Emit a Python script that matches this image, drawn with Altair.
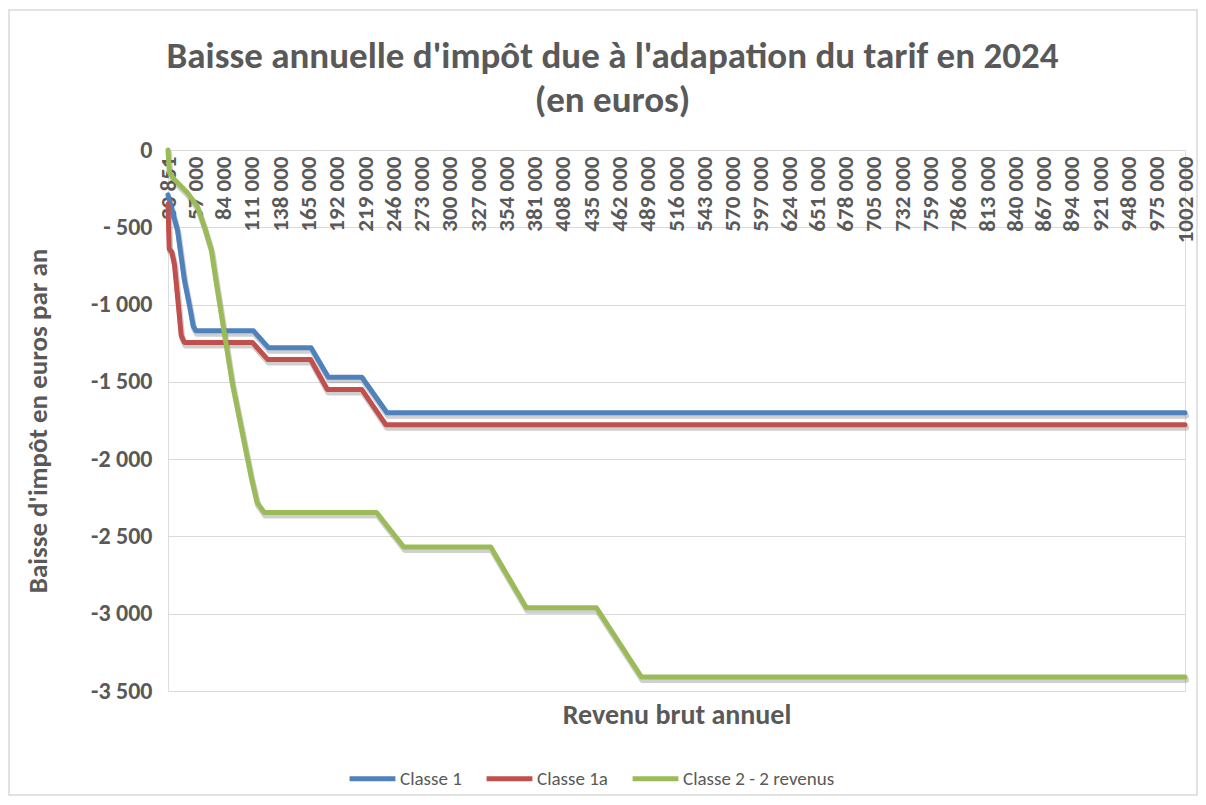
import altair as alt
import pandas as pd

FONT = "Carlito, Lato, sans-serif"
TXT = "#595959"
GRID = "#d9d9d9"

series_names = ["Classe 1", "Classe 1a", "Classe 2 - 2 revenus"]
series_colors = ["#4f81bd", "#c0504d", "#9bbb59"]

# Classe 1 (blue)
rev_c1 = [30851, 36000, 40000, 46500, 51500, 55000, 57500, 112500, 127000,
          167500, 184000, 216000, 240000, 1002000]
val_c1 = [-290, -420, -520, -840, -1010, -1140, -1170, -1170, -1280,
          -1280, -1470, -1470, -1700, -1700]

# Classe 1a (red)
rev_c1a = [30851, 32000, 34500, 37000, 40000, 43500, 46500, 111500, 126000,
           167000, 183000, 216000, 239000, 1002000]
val_c1a = [-350, -640, -660, -740, -950, -1200, -1245, -1245, -1355,
           -1355, -1550, -1550, -1778, -1778]

# Classe 2 - 2 revenus (green)
rev_c2 = [30851, 32200, 37000, 49400, 58900, 65600, 72200, 77000, 84600,
          92200, 101800, 110300, 116000, 122700, 230000, 256000, 339000,
          373000, 440000, 483000, 1002000]
val_c2 = [0, -146, -191, -276, -366, -496, -644, -858, -1181,
          -1504, -1828, -2113, -2281, -2345, -2345, -2568, -2568,
          -2962, -2962, -3410, -3410]

x_ticks = [30851, 57000, 84000, 111000, 138000, 165000, 192000, 219000,
           246000, 273000, 300000, 327000, 354000, 381000, 408000, 435000,
           462000, 489000, 516000, 543000, 570000, 597000, 624000, 651000,
           678000, 705000, 732000, 759000, 786000, 813000, 840000, 867000,
           894000, 921000, 948000, 975000, 1002000]
y_ticks = [0, -500, -1000, -1500, -2000, -2500, -3000, -3500]

rows = []
for name, revs, vals in zip(series_names, [rev_c1, rev_c1a, rev_c2],
                            [val_c1, val_c1a, val_c2]):
    for i, (r, v) in enumerate(zip(revs, vals)):
        rows.append({"serie": name, "rev": r, "val": v, "ordre": i})
df = pd.DataFrame(rows)

W, H = 1017, 541

x_enc = alt.X(
    "rev:Q",
    scale=alt.Scale(domain=[30851, 1002000], nice=False, zero=False),
    axis=alt.Axis(
        values=x_ticks, orient="bottom", offset=-H, labelAngle=-90,
        labelExpr="floor(datum.value / 1000) + ' ' + format(datum.value % 1000, '03d')",
        grid=False, ticks=False, domainColor=GRID, domainWidth=1,
        labelColor=TXT, labelFont=FONT, labelFontSize=23, labelFontWeight="bold",
        labelPadding=6, labelOverlap=False, labelFlush=False,
        title="Revenu brut annuel", titleY=565, titleBaseline="middle",
        titleFont=FONT, titleFontSize=28, titleFontWeight="bold", titleColor=TXT,
    ),
)
y_enc = alt.Y(
    "val:Q",
    scale=alt.Scale(domain=[-3500, 0], nice=False, zero=False),
    axis=alt.Axis(
        values=y_ticks,
        labelExpr="datum.value == 0 ? '0' : datum.value == -500 ? '- 500' : '-' + replace(format(-datum.value, ','), ',', ' ')",
        grid=True, gridColor=GRID, gridWidth=1, domain=False, ticks=False,
        labelColor=TXT, labelFont=FONT, labelFontSize=24, labelFontWeight="bold",
        labelPadding=16,
        title="Baisse d'impôt en euros par an", titleFont=FONT, titleFontSize=27,
        titleFontWeight="bold", titleColor=TXT, titlePadding=38,
    ),
)

shadow = alt.Chart(df).mark_line(
    strokeWidth=6, color="#606060", opacity=0.3, xOffset=1, yOffset=3,
    strokeCap="round", strokeJoin="round",
).encode(x=x_enc, y=y_enc, detail="serie:N", order="ordre:Q")

lines = alt.Chart(df).mark_line(
    strokeWidth=5, strokeCap="round", strokeJoin="round",
).encode(
    x=x_enc, y=y_enc, order="ordre:Q",
    color=alt.Color(
        "serie:N",
        scale=alt.Scale(domain=series_names, range=series_colors),
        legend=alt.Legend(
            title=None, orient="none", direction="horizontal",
            legendX=179, legendY=603, symbolType="stroke",
            symbolStrokeWidth=5, symbolSize=2100, labelFont=FONT,
            labelFontSize=19, labelColor=TXT, columnPadding=14, labelOffset=2,
        ),
    ),
)

frame = alt.Chart(pd.DataFrame({"k": [0]})).mark_rect(
    fill=None, stroke=GRID, strokeWidth=1.5
).encode(
    x=alt.value(-159), x2=alt.value(1029), y=alt.value(-140), y2=alt.value(645)
)

chart = alt.layer(frame, shadow, lines).properties(
    width=W, height=H,
    autosize=alt.AutoSizeParams(type="none"),
    padding={"left": 160, "top": 142, "right": 13, "bottom": 106},
    title=alt.TitleParams(
        text=["Baisse annuelle d'impôt due à l'adapation du tarif en 2024", "(en euros)"],
        font=FONT, fontSize=37, fontWeight="bold", color=TXT,
        anchor="middle", frame="group", dx=-64, lineHeight=44, offset=-111,
    ),
).configure_view(stroke=None).configure(background="white")

chart.save("out.html", embed_options={"renderer": "svg", "actions": False})
